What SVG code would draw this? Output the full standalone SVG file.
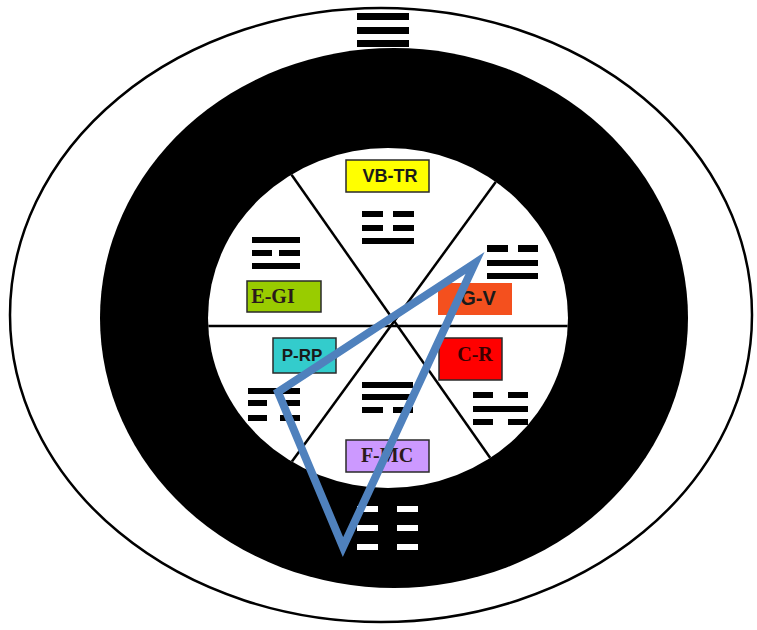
<svg xmlns="http://www.w3.org/2000/svg" width="757" height="630" viewBox="0 0 757 630">
<style>
.lbl{stroke:#2a2a2a;stroke-width:1.5}
.sans{font-family:"Liberation Sans",Arial,sans-serif;font-size:18px;font-weight:bold;fill:#1a1a1a;text-anchor:middle}
.serif{font-family:"Liberation Serif","Times New Roman",serif;font-size:20px;font-weight:bold;fill:#2a1a1a;text-anchor:middle}
.bar{fill:#000}
.wbar{fill:#fff}
.div{stroke:#000;stroke-width:2.5;fill:none}
</style>
<defs>
<clipPath id="inner"><ellipse cx="388" cy="318" rx="180" ry="170"/></clipPath>
</defs>
<rect width="757" height="630" fill="#fff"/>
<g id="outer">
<ellipse cx="381" cy="315" rx="371" ry="307" fill="#fff" stroke="#000" stroke-width="2.5"/>
</g>
<g id="ring">
<ellipse cx="394" cy="318" rx="294" ry="270" fill="#000"/>
<ellipse cx="388" cy="318" rx="180" ry="170" fill="#fff"/>
</g>
<g id="dividers" clip-path="url(#inner)">
<line class="div" x1="200" y1="326" x2="580" y2="326"/>
<line class="div" x1="284" y1="164" x2="498" y2="469"/>
<line class="div" x1="503" y1="172" x2="285" y2="471"/>
</g>
<g id="trigram-top">
<rect class="bar" x="357" y="13" width="52" height="7"/>
<rect class="bar" x="357" y="27" width="52" height="7"/>
<rect class="bar" x="357" y="40" width="52" height="7"/>
</g>
<g id="trigram-bottom">
<rect class="wbar" x="357" y="506" width="21" height="6"/><rect class="wbar" x="397" y="506" width="21" height="6"/>
<rect class="wbar" x="357" y="525" width="21" height="6"/><rect class="wbar" x="397" y="525" width="21" height="6"/>
<rect class="wbar" x="357" y="544" width="21" height="6"/><rect class="wbar" x="397" y="544" width="21" height="6"/>
</g>
<g id="VB-TR">
<rect class="lbl" x="346" y="160" width="83" height="32" fill="#ffff00"/>
<text class="sans" x="390" y="182">VB-TR</text>
<rect class="bar" x="362" y="211" width="21" height="6"/><rect class="bar" x="393" y="211" width="21" height="6"/>
<rect class="bar" x="362" y="225" width="21" height="6"/><rect class="bar" x="393" y="225" width="21" height="6"/>
<rect class="bar" x="362" y="238" width="52" height="6"/>
</g>
<g id="E-GI">
<rect class="bar" x="252" y="237" width="48" height="6"/>
<rect class="bar" x="252" y="250" width="20" height="6"/><rect class="bar" x="279" y="250" width="21" height="6"/>
<rect class="bar" x="252" y="263" width="48" height="6"/>
<rect class="lbl" x="247" y="281" width="74" height="31" fill="#99cc00"/>
<text class="serif" x="273" y="303">E-GI</text>
</g>
<g id="G-V">
<rect class="bar" x="487" y="245" width="21" height="7"/><rect class="bar" x="518" y="245" width="20" height="7"/>
<rect class="bar" x="487" y="260" width="51" height="6"/>
<rect class="bar" x="487" y="273" width="51" height="6"/>
<rect x="438" y="283" width="74" height="32" fill="#f4501e"/>
<text class="sans" x="478" y="305" style="font-size:20px">G-V</text>
</g>
<g id="P-RP">
<rect class="lbl" x="273" y="338" width="63" height="35" fill="#33cccc"/>
<text class="sans" x="302" y="361" style="font-size:17px">P-RP</text>
<rect class="bar" x="248" y="388" width="52" height="6"/>
<rect class="bar" x="248" y="400" width="19" height="6"/><rect class="bar" x="280" y="400" width="20" height="6"/>
<rect class="bar" x="248" y="415" width="19" height="6"/><rect class="bar" x="280" y="415" width="20" height="6"/>
</g>
<g id="C-R">
<rect class="lbl" x="439" y="338" width="63" height="42" fill="#ff0000"/>
<text class="serif" x="475" y="361" style="fill:#3a0000">C-R</text>
<rect class="bar" x="473" y="392" width="20" height="6"/><rect class="bar" x="508" y="392" width="20" height="6"/>
<rect class="bar" x="473" y="406" width="55" height="6"/>
<rect class="bar" x="473" y="419" width="20" height="6"/><rect class="bar" x="508" y="419" width="20" height="6"/>
</g>
<g id="F-MC">
<rect class="bar" x="362" y="382" width="51" height="6"/>
<rect class="bar" x="362" y="394" width="51" height="6"/>
<rect class="bar" x="362" y="407" width="21" height="6"/><rect class="bar" x="393" y="407" width="20" height="6"/>
<rect class="lbl" x="346" y="440" width="83" height="32" fill="#cc99ff"/>
<text class="serif" x="387" y="462">F-MC</text>
</g>
<g id="connectors">
<polygon points="475,263 278,392 343,547" fill="none" stroke="#4f81bd" stroke-width="8" stroke-linejoin="miter"/>
</g>
</svg>
